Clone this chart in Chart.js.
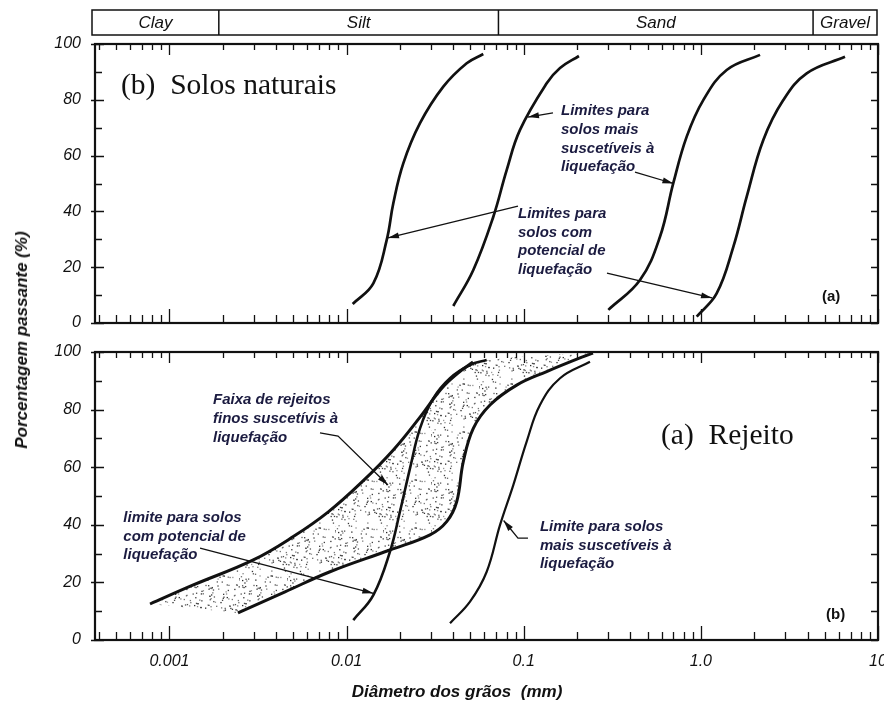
<!DOCTYPE html>
<html lang="pt">
<head>
<meta charset="utf-8">
<title>Curvas granulométricas</title>
<script src="https://cdn.jsdelivr.net/npm/chart.js@4.4.1/dist/chart.umd.min.js"></script>
<style>
  body { margin: 0; background: #fff; }
  #fig { position: relative; width: 884px; height: 708px; background: #fff; overflow: hidden; }
  #fig canvas { position: absolute; left: 0; }
  #naturais { top: 0; }
  #rejeito { top: 335px; }
  .eixo { position: absolute; font: italic bold 17px "Liberation Sans", Arial, sans-serif; color: #111; white-space: pre; }
  #tituloY { left: 22px; top: 340px; transform: translate(-50%, -50%) rotate(-90deg); }
  #tituloX { left: 457px; top: 692px; transform: translate(-50%, -50%); }
</style>
</head>
<body>
<div id="fig">
  <canvas id="naturais" width="884" height="335"></canvas>
  <canvas id="rejeito" width="884" height="373"></canvas>
  <div class="eixo" id="tituloY">Porcentagem passante (%)</div>
  <div class="eixo" id="tituloX">Diâmetro dos grãos  (mm)</div>
</div>
<script>
// eixo x (diâmetro, mm) e classes granulométricas
const xMin = 0.00038, xMax = 10;
const xTickValues = [0.001, 0.01, 0.1, 1, 10];
const xTickLabels = ['0.001', '0.01', '0.1', '1.0', '10'];
const soilClasses = ['Clay', 'Silt', 'Sand', 'Gravel'];
const classLimits = [0.0019, 0.072, 4.3];

// (b) solos naturais: limites com potencial de liquefação (externos) e mais suscetíveis (internos)
const potencialFinoD = [0.01083, 0.01416, 0.01684, 0.01836, 0.0209, 0.02597, 0.03516, 0.04766, 0.05912];
const potencialFinoP = [6.8, 14.2, 29.7, 42.9, 57.2, 71.6, 84.7, 93.1, 96.4];
const suscetFinoD = [0.04004, 0.05193, 0.06735, 0.08013, 0.09528, 0.1348, 0.1603, 0.205];
const suscetFinoP = [6.1, 19.0, 38.1, 54.8, 69.2, 85.9, 91.4, 95.7];
const suscetGrossoD = [0.3003, 0.4533, 0.5878, 0.6988, 0.832, 1.032, 1.399, 2.158];
const suscetGrossoP = [4.7, 15.4, 30.9, 50.1, 66.8, 79.9, 90.7, 96.1];
const potencialGrossoD = [0.9473, 1.228, 1.525, 1.815, 2.252, 2.92, 3.958, 6.512];
const potencialGrossoP = [2.3, 10.6, 27.3, 45.3, 65.6, 79.9, 89.5, 95.4];

// (a) rejeito: faixa de rejeitos finos e limites
const faixaSupD = [0.000777, 0.001364, 0.002975, 0.005002, 0.007855, 0.01222, 0.01836, 0.02597, 0.03457, 0.04256, 0.05172];
const faixaSupP = [12.5, 19.1, 27.8, 35.9, 44.4, 54.9, 66.0, 77.4, 87.5, 92.7, 96.5];
const faixaInfD = [0.002438, 0.004493, 0.008062, 0.01758, 0.02957, 0.03674, 0.04184, 0.04559, 0.05193, 0.06452, 0.09129, 0.1348, 0.217, 0.2461];
const faixaInfP = [9.4, 16.7, 23.7, 31.25, 36.5, 41.1, 48.0, 61.9, 73.5, 81.6, 88.5, 93.2, 98.4, 99.6];
const rejPotencialD = [0.01091, 0.01416, 0.01758, 0.02002, 0.0228, 0.02597, 0.03087, 0.03836, 0.04975, 0.0618];
const rejPotencialP = [6.9, 15.6, 30.7, 44.6, 59.6, 73.5, 83.9, 90.9, 95.5, 97.2];
const rejSuscetD = [0.03836, 0.04975, 0.0618, 0.07345, 0.08733, 0.1039, 0.1235, 0.1603, 0.2366];
const rejSuscetP = [5.8, 13.3, 23.7, 39.9, 53.8, 68.9, 81.6, 90.9, 96.6];

const ink = '#111';
const noteInk = '#1b1b40';
const sansFont = '"Liberation Sans", Arial, sans-serif';
const serifFont = '"Liberation Serif", "Times New Roman", serif';

const pts = (d, p) => d.map((v, i) => ({ x: v, y: p[i] }));

function curve(d, p, w) {
  return { data: pts(d, p), borderColor: ink, borderWidth: w, pointRadius: 0, tension: 0.4, fill: false };
}

// marcas 1..9 de cada década
function tickList() {
  const out = [];
  for (let e = -4; e <= 1; e++) {
    for (let k = 1; k <= 9; k++) {
      const v = k * Math.pow(10, e);
      if (v >= xMin && v <= xMax * 1.001) out.push({ value: v, major: k === 1 });
    }
  }
  return out;
}

function scales(showX, xHeight) {
  return {
    x: {
      type: 'logarithmic', min: xMin, max: xMax,
      grid: { display: false, drawTicks: false }, border: { display: false },
      afterBuildTicks: s => { s.ticks = tickList(); },
      ticks: {
        display: showX, autoSkip: false, maxRotation: 0, padding: 12, color: ink,
        font: { family: sansFont, size: 16, style: 'italic' },
        callback: v => {
          const i = xTickValues.findIndex(t => Math.abs(t - v) < t * 1e-6);
          return i < 0 ? '' : xTickLabels[i];
        }
      },
      afterFit: s => { s.height = xHeight; s.paddingLeft = 0; s.paddingRight = 0; }
    },
    y: {
      min: 0, max: 100,
      grid: { display: false, drawTicks: false }, border: { display: false },
      ticks: {
        stepSize: 10, padding: 14, color: ink,
        font: { family: sansFont, size: 16, style: 'italic' },
        callback: v => (v % 20 === 0 ? String(v) : '')
      },
      afterFit: s => { s.width = 95; s.paddingTop = 0; s.paddingBottom = 0; }
    }
  };
}

function drawBand(ctx, chart) {
  const a = chart.chartArea, x = chart.scales.x;
  const top = 10, bot = 35, left = a.left - 3, right = a.right - 1;
  const edges = [left, ...classLimits.map(v => x.getPixelForValue(v)), right];
  ctx.strokeStyle = ink;
  ctx.lineWidth = 1.5;
  ctx.strokeRect(left, top, right - left, bot - top);
  ctx.beginPath();
  edges.slice(1, -1).forEach(e => { ctx.moveTo(e, top); ctx.lineTo(e, bot); });
  ctx.stroke();
  ctx.fillStyle = ink;
  ctx.font = `italic 17px ${sansFont}`;
  ctx.textAlign = 'center';
  ctx.textBaseline = 'middle';
  soilClasses.forEach((c, i) => ctx.fillText(c, (edges[i] + edges[i + 1]) / 2, (top + bot) / 2 + 1));
}

function drawNote(ctx, x, y, n) {
  const px = x.getPixelForValue(n.at[0]), py = y.getPixelForValue(n.at[1]);
  ctx.fillStyle = n.color || noteInk;
  ctx.font = n.font || `italic bold 15px ${sansFont}`;
  ctx.textAlign = 'left';
  ctx.textBaseline = 'middle';
  n.lines.forEach((s, i) => ctx.fillText(s, px, py + i * 18.7));
  (n.arrows || []).forEach(path => {
    const p = path.map(([vx, vy]) => [x.getPixelForValue(vx), y.getPixelForValue(vy)]);
    ctx.strokeStyle = ink;
    ctx.lineWidth = 1.3;
    ctx.beginPath();
    p.forEach(([a, b], i) => (i ? ctx.lineTo(a, b) : ctx.moveTo(a, b)));
    ctx.stroke();
    const [x1, y1] = p[p.length - 2], [x2, y2] = p[p.length - 1];
    const ang = Math.atan2(y2 - y1, x2 - x1), c = Math.cos(ang), s = Math.sin(ang);
    ctx.beginPath();
    ctx.moveTo(x2, y2);
    ctx.lineTo(x2 - 11 * c + 3 * s, y2 - 11 * s - 3 * c);
    ctx.lineTo(x2 - 11 * c - 3 * s, y2 - 11 * s + 3 * c);
    ctx.closePath();
    ctx.fillStyle = ink;
    ctx.fill();
  });
}

// moldura, marcas internas dos eixos, faixa de classes e anotações
const panelDecor = {
  id: 'panelDecor',
  afterDatasetsDraw(chart, args, opts) {
    const { ctx, chartArea: a, scales: { x, y } } = chart;
    ctx.save();
    ctx.strokeStyle = ink;
    ctx.lineWidth = 2.2;
    ctx.strokeRect(a.left, a.top, a.right - a.left, a.bottom - a.top);
    ctx.lineWidth = 1.3;
    ctx.beginPath();
    x.ticks.forEach(t => {
      const px = Math.round(x.getPixelForValue(t.value)) + 0.5;
      ctx.moveTo(px, a.bottom); ctx.lineTo(px, a.bottom - (t.major ? 14 : 8));
      ctx.moveTo(px, a.top); ctx.lineTo(px, a.top + (t.major ? 11 : 6));
    });
    y.ticks.forEach(t => {
      const py = Math.round(y.getPixelForValue(t.value)) + 0.5;
      const major = t.value % 20 === 0;
      ctx.moveTo(a.left - (major ? 4 : 0), py); ctx.lineTo(a.left + (major ? 9 : 7), py);
      ctx.moveTo(a.right, py); ctx.lineTo(a.right - 7, py);
    });
    ctx.stroke();
    if (opts.band) drawBand(ctx, chart);
    (opts.notes || []).forEach(n => drawNote(ctx, x, y, n));
    ctx.restore();
  }
};

// pontilhado da faixa de rejeitos
function stipple(ctx) {
  const c = document.createElement('canvas');
  c.width = c.height = 48;
  const g = c.getContext('2d');
  g.fillStyle = '#222';
  let s = 11;
  const next = () => (s = (s * 9301 + 49297) % 233280) / 233280;
  for (let i = 0; i < 120; i++) {
    const px = next() * 48, py = next() * 48;
    g.globalAlpha = 0.45 + next() * 0.55;
    g.fillRect(px, py, 1.3, 1.3);
  }
  return ctx.createPattern(c, 'repeat');
}

const topNotes = [
  { lines: ['(b)  Solos naturais'], at: [0.000533, 84.9], font: `29.5px ${serifFont}`, color: ink },
  { lines: ['Limites para', 'solos mais', 'suscetíveis à', 'liquefação'], at: [0.1624, 76.0],
    arrows: [[[0.1463, 75.3], [0.1057, 73.8]], [[0.4248, 54.1], [0.70, 50.0]]] },
  { lines: ['Limites para', 'solos com', 'potencial de', 'liquefação'], at: [0.0928, 39.1],
    arrows: [[[0.0928, 41.9], [0.01713, 30.5]], [[0.2952, 17.9], [1.156, 9.0]]] },
  { lines: ['(a)'], at: [4.83, 9.3], font: `bold 15px ${sansFont}`, color: ink }
];

const botNotes = [
  { lines: ['Faixa de rejeitos', 'finos suscetívis à', 'liquefação'], at: [0.001761, 83.3],
    arrows: [[[0.00708, 71.9], [0.00895, 70.8], [0.01713, 53.8]]] },
  { lines: ['limite para solos', 'com potencial de', 'liquefação'], at: [0.000549, 42.4],
    arrows: [[[0.001488, 31.9], [0.01416, 16.2]]] },
  { lines: ['Limite para solos', 'mais suscetíveis à', 'liquefação'], at: [0.1235, 39.3],
    arrows: [[[0.1057, 35.4], [0.0928, 35.4], [0.077, 41.5]]] },
  { lines: ['(a)  Rejeito'], at: [0.5957, 70.8], font: `29.5px ${serifFont}`, color: ink },
  { lines: ['(b)'], at: [5.087, 8.7], font: `bold 15px ${sansFont}`, color: ink }
];

function baseOptions(padTop, showX, xHeight, decor) {
  return {
    responsive: false, animation: false, events: [],
    layout: { padding: { top: padTop, right: 6, left: 0, bottom: 0 } },
    scales: scales(showX, xHeight),
    plugins: { legend: { display: false }, tooltip: { enabled: false }, panelDecor: decor }
  };
}

new Chart(document.getElementById('naturais'), {
  type: 'line',
  data: {
    datasets: [
      curve(potencialFinoD, potencialFinoP, 2.7),
      curve(suscetFinoD, suscetFinoP, 2.7),
      curve(suscetGrossoD, suscetGrossoP, 2.7),
      curve(potencialGrossoD, potencialGrossoP, 2.7)
    ]
  },
  options: baseOptions(44, false, 12, { band: true, notes: topNotes }),
  plugins: [panelDecor]
});

const rejCanvas = document.getElementById('rejeito');
const faixa = pts(faixaSupD, faixaSupP).concat(pts(faixaInfD, faixaInfP).reverse());

new Chart(rejCanvas, {
  type: 'line',
  data: {
    datasets: [
      curve(faixaSupD, faixaSupP, 3),
      curve(faixaInfD, faixaInfP, 3),
      curve(rejPotencialD, rejPotencialP, 2.6),
      curve(rejSuscetD, rejSuscetP, 2.2),
      { data: faixa, fill: 'shape', backgroundColor: stipple(rejCanvas.getContext('2d')),
        borderColor: 'transparent', borderWidth: 0, pointRadius: 0, tension: 0.4, order: 10 }
    ]
  },
  options: baseOptions(17, true, 68, { band: false, notes: botNotes }),
  plugins: [panelDecor]
});
</script>
</body>
</html>
